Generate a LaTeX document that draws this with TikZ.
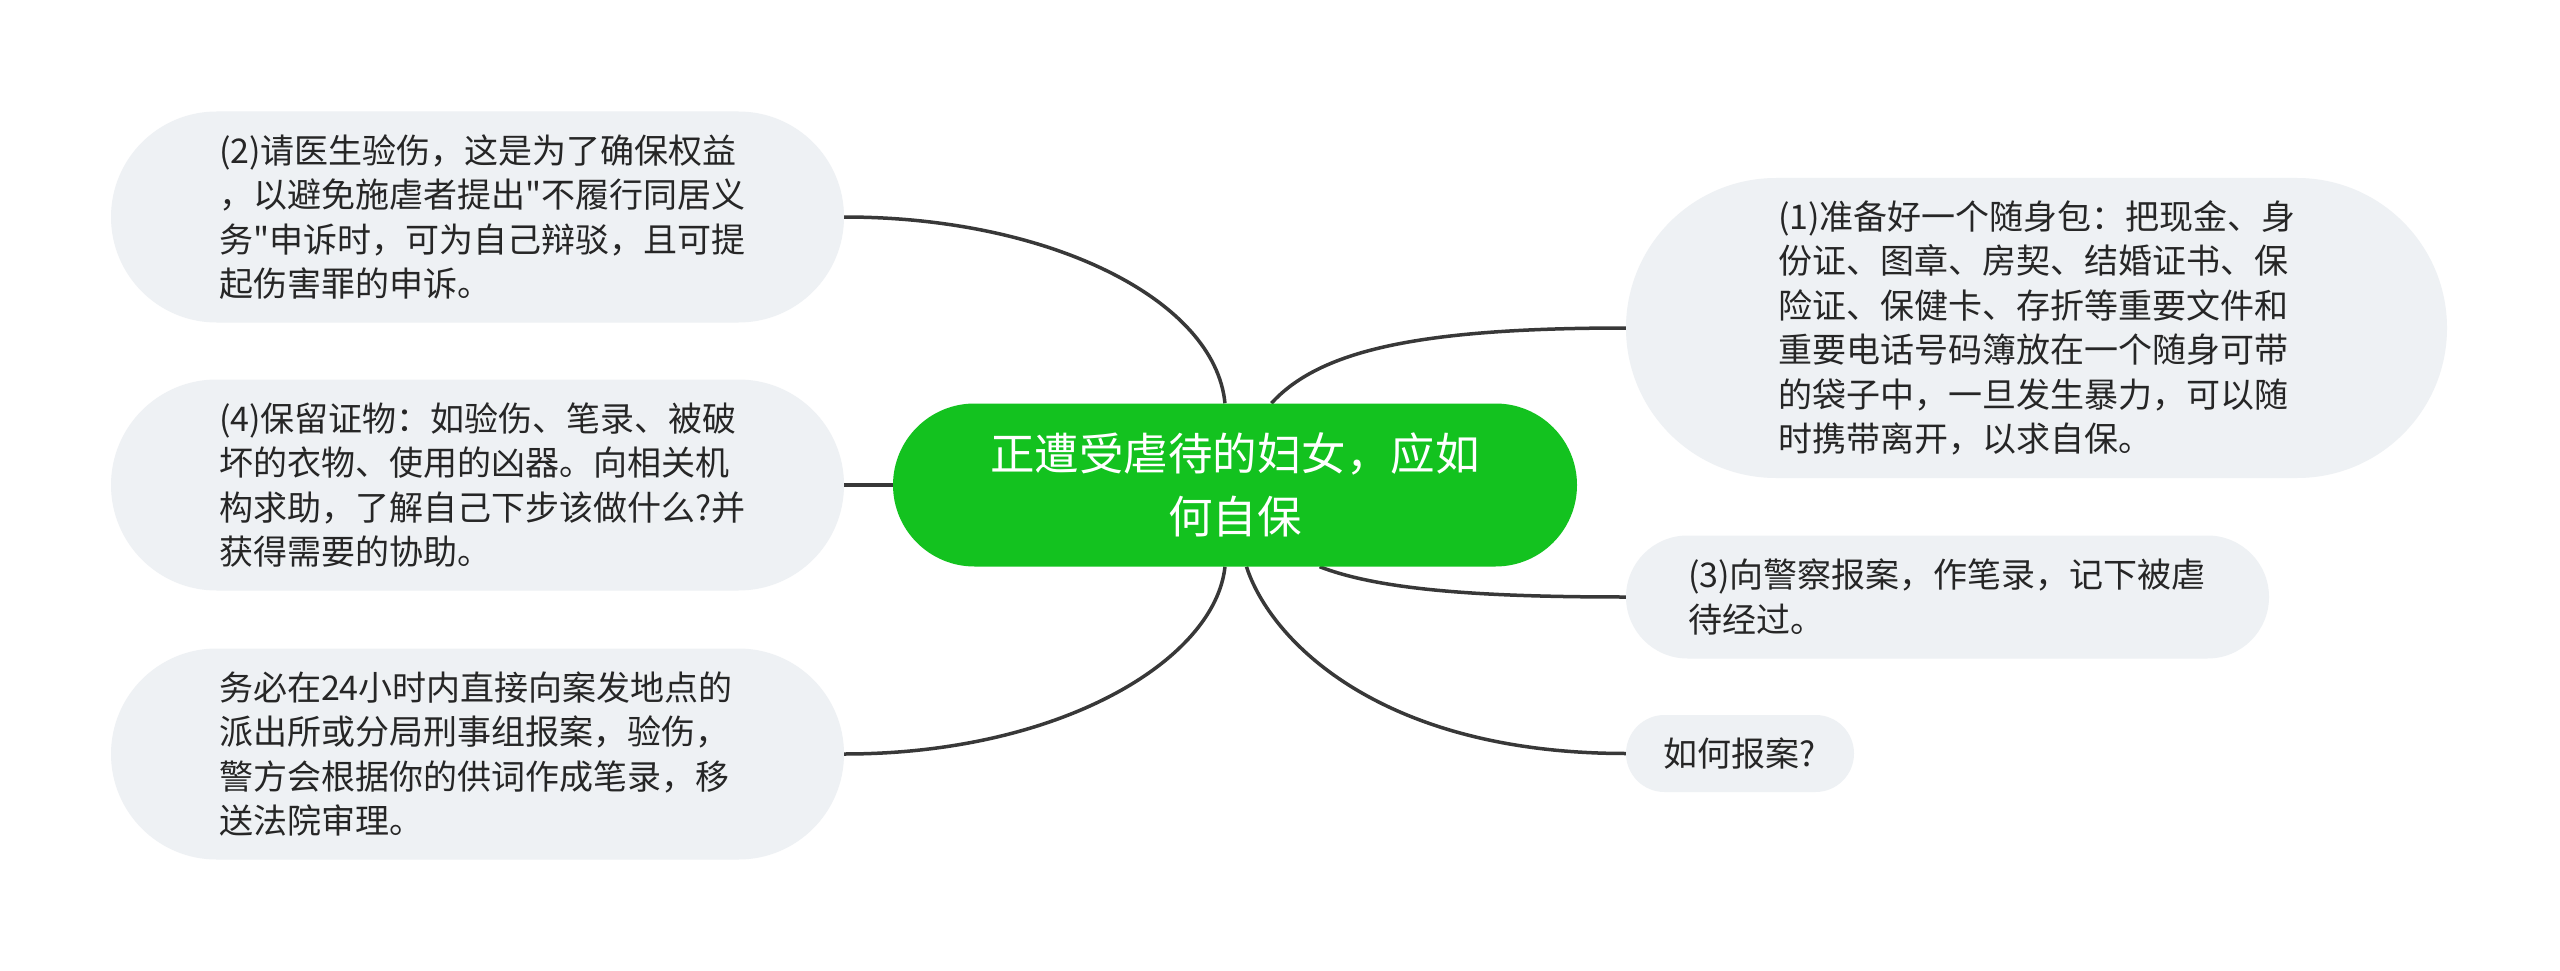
\documentclass[tikz,border=0pt]{standalone}
\usepackage{fontspec}
\setmainfont{Noto Sans CJK SC}[Ligatures=TeXOff]
\definecolor{nodegray}{HTML}{EEF1F4}
\definecolor{rootgreen}{HTML}{13C21F}
\definecolor{linegray}{HTML}{383838}
\definecolor{txt}{HTML}{262626}
\pgfdeclarelayer{bg}
\pgfsetlayers{bg,main}
\begin{document}
\begin{tikzpicture}[x=1pt,y=-1pt,
 leaf/.style={fill=nodegray, inner sep=0pt, text=txt, font=\fontsize{34}{44.5}\selectfont, align=left},
 bigleaf/.style={leaf, text width=517pt, minimum width=733pt, minimum height=211pt, rounded corners=105.5pt},
 rootnode/.style={fill=rootgreen, text=white, font=\fontsize{44.5}{63}\selectfont, align=center, inner sep=0pt, minimum width=684pt, minimum height=163pt, rounded corners=81.5pt},
 link/.style={draw=linegray, line width=3.5pt},
]
\useasboundingbox (0,0) rectangle (2560,971);

\node[rootnode] (root) at (1235,485) {正遭受虐待的妇女，应如\\何自保};

\node[bigleaf] (a) at (477.5,217) {(2)请医生验伤，这是为了确保权益\\，以避免施虐者提出"不履行同居义\\务"申诉时，可为自己辩驳，且可提\\起伤害罪的申诉。};
\node[bigleaf] (b) at (477.5,485) {(4)保留证物：如验伤、笔录、被破\\坏的衣物、使用的凶器。向相关机\\构求助，了解自己下步该做什么?并\\获得需要的协助。};
\node[bigleaf] (c) at (477.5,754) {务必在24小时内直接向案发地点的\\派出所或分局刑事组报案，验伤，\\警方会根据你的供词作成笔录，移\\送法院审理。};

\node[leaf, text width=517pt, minimum width=821pt, minimum height=300pt, rounded corners=150pt] (d) at (2036.5,328) {(1)准备好一个随身包：把现金、身\\份证、图章、房契、结婚证书、保\\险证、保健卡、存折等重要文件和\\重要电话号码簿放在一个随身可带\\的袋子中，一旦发生暴力，可以随\\时携带离开，以求自保。};
\node[leaf, text width=519pt, minimum width=643pt, minimum height=123pt, rounded corners=61.5pt] (e) at (1947.5,597) {(3)向警察报案，作笔录，记下被虐\\待经过。};
\node[leaf, align=center, minimum width=228pt, minimum height=77pt, rounded corners=38.5pt] (f) at (1740,753.5) {如何报案?};

\begin{pgfonlayer}{bg}
\fill[white] (0,0) rectangle (2560,971);
\draw[link] (a.east) .. controls (1050,217) and (1215,300) .. (root.97);
\draw[link] (b.east) -- (root.west);
\draw[link] (c.east) .. controls (1060,754) and (1215,660) .. (root.263);
\draw[link] (root.66) .. controls (1320,350) and (1420,328) .. (d.west);
\draw[link] (root.316) .. controls (1380,590) and (1480,597) .. (e.west);
\draw[link] (root.278) .. controls (1270,640) and (1380,753.5) .. (f.west);
\end{pgfonlayer}
\end{tikzpicture}
\end{document}
